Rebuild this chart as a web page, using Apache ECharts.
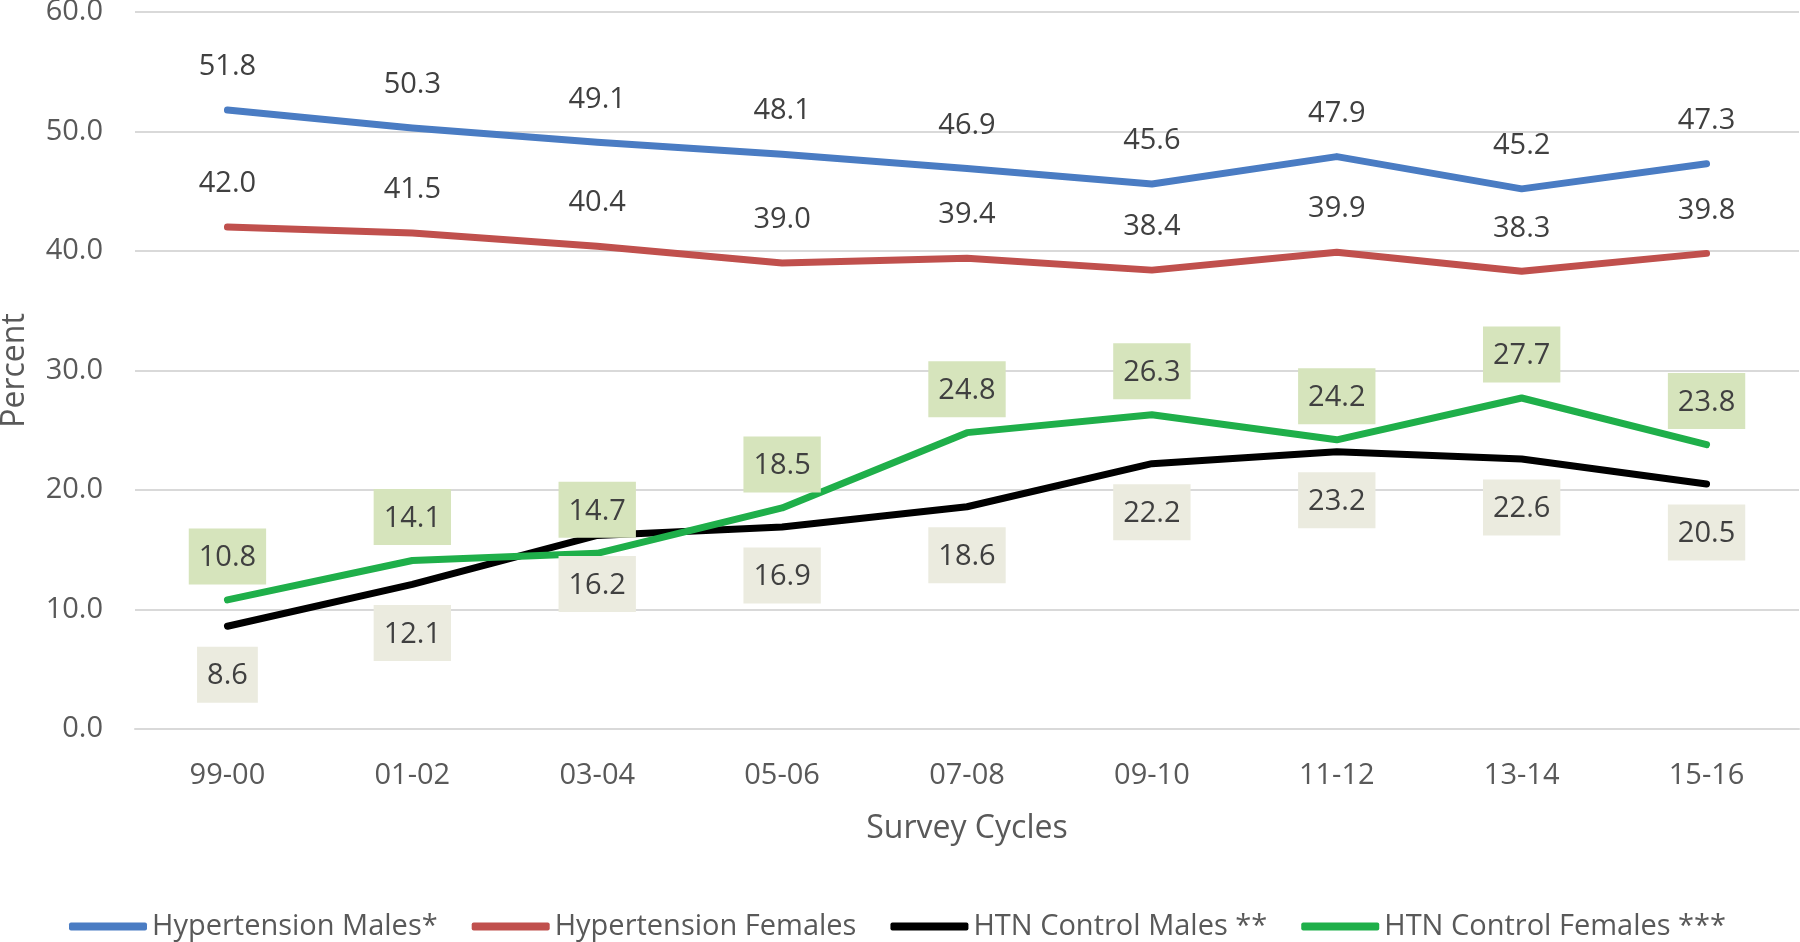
<!DOCTYPE html>
<html><head><meta charset="utf-8">
<script src="https://cdn.jsdelivr.net/npm/echarts@6/dist/echarts.min.js"></script>
<style>html,body{margin:0;padding:0;background:#fff}#c{width:1800px;height:942px}</style>
</head><body><div id="c"></div>
<script>
const categories = ['99-00','01-02','03-04','05-06','07-08','09-10','11-12','13-14','15-16'];
const htnMales = [51.8, 50.3, 49.1, 48.1, 46.9, 45.6, 47.9, 45.2, 47.3];
const htnFemales = [42.0, 41.5, 40.4, 39.0, 39.4, 38.4, 39.9, 38.3, 39.8];
const ctrlMales = [8.6, 12.1, 16.2, 16.9, 18.6, 22.2, 23.2, 22.6, 20.5];
const ctrlFemales = [10.8, 14.1, 14.7, 18.5, 24.8, 26.3, 24.2, 27.7, 23.8];
const seriesNames = ['Hypertension Males*','Hypertension Females','HTN Control Males **','HTN Control Females ***'];

const FONT = '"Open Sans"';
const chart = echarts.init(document.getElementById('c'));
function mk(name, data, color, pos, bg, dist) {
  const label = {
    show: true, position: pos, distance: dist,
    color: '#404040', fontFamily: FONT, fontSize: 29,
    formatter: p => p.value.toFixed(1)
  };
  if (bg) { label.backgroundColor = bg; label.padding = [15, 10, 12, 10]; }
  return {
    name, type: 'line', data, symbol: 'circle', symbolSize: 1, showSymbol: true,
    lineStyle: { color, width: 7, cap: 'round', join: 'round' },
    itemStyle: { color },
    label
  };
}
chart.setOption({
  animation: false,
  backgroundColor: '#fff',
  grid: { left: 135, right: 1, top: 12, bottom: 213, containLabel: false, outerBoundsMode: 'none' },
  xAxis: {
    type: 'category', data: categories, boundaryGap: true,
    name: 'Survey Cycles', nameLocation: 'middle', nameGap: 84,
    nameTextStyle: { color: '#595959', fontFamily: FONT, fontSize: 32 },
    axisLine: { show: true, lineStyle: { color: '#D9D9D9', width: 2 } },
    axisTick: { show: false },
    axisLabel: { color: '#595959', fontFamily: FONT, fontSize: 29, margin: 32 }
  },
  yAxis: {
    type: 'value', min: 0, max: 60, interval: 10,
    name: 'Percent', nameLocation: 'middle', nameGap: 104, nameRotate: 90,
    nameTextStyle: { color: '#595959', fontFamily: FONT, fontSize: 32 },
    axisLine: { show: false }, axisTick: { show: false },
    splitLine: { lineStyle: { color: '#D9D9D9', width: 2 } },
    axisLabel: { color: '#595959', fontFamily: FONT, fontSize: 29, margin: 32, formatter: v => v.toFixed(1) }
  },
  legend: {
    top: 907, left: 64, itemWidth: 78, itemHeight: 8, itemGap: 34,
    icon: 'roundRect',
    textStyle: { color: '#595959', fontFamily: FONT, fontSize: 29 },
    data: seriesNames
  },
  series: [
    mk(seriesNames[0], htnMales, '#4A7CC3', 'top', null, 28),
    mk(seriesNames[1], htnFemales, '#C0504D', 'top', null, 28),
    mk(seriesNames[2], ctrlMales, '#000000', 'bottom', '#EBEBDF', 20),
    mk(seriesNames[3], ctrlFemales, '#1FAF4A', 'top', '#D6E4BC', 15)
  ]
});
</script></body></html>
